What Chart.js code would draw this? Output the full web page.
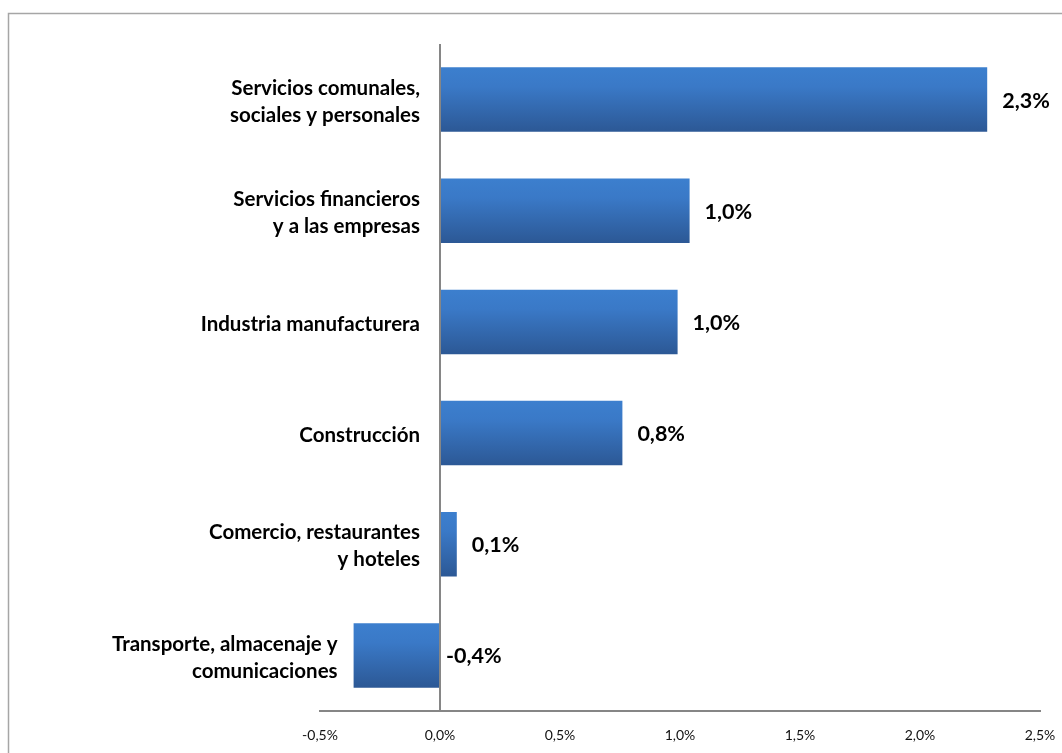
<!DOCTYPE html>
<html>
<head>
<meta charset="utf-8">
<script src="https://cdn.jsdelivr.net/npm/chart.js@4"></script>
<style>
  html, body { margin: 0; padding: 0; background: #fff; }
  #wrap { width: 1062px; height: 753px; position: relative; }
</style>
</head>
<body>
<div id="wrap"><canvas id="sector-chart"></canvas></div>
<script>
const sectors = [
  ['Servicios comunales,', 'sociales y personales'],
  ['Servicios financieros', 'y a las empresas'],
  ['Industria manufacturera'],
  ['Construcción'],
  ['Comercio, restaurantes', 'y hoteles'],
  ['Transporte, almacenaje y', 'comunicaciones']
];
const growth = [2.28, 1.04, 0.99, 0.76, 0.07, -0.36];
const growthLabels = ['2,3%', '1,0%', '1,0%', '0,8%', '0,1%', '-0,4%'];
const xTicks = [-0.5, 0, 0.5, 1, 1.5, 2, 2.5];

const fmtPct = v => v.toFixed(1).replace('.', ',') + '%';

function barGradient(ctx) {
  const chart = ctx.chart;
  const yScale = chart.scales.y;
  if (!yScale || ctx.dataIndex === undefined) return '#3a78c6';
  const c = yScale.getPixelForValue(ctx.dataIndex);
  const half = (yScale.height / sectors.length) * 0.58 / 2;
  if (!isFinite(c) || !isFinite(half) || half <= 0) return '#3a78c6';
  const g = chart.ctx.createLinearGradient(0, c - half, 0, c + half);
  g.addColorStop(0, '#3c7fce');
  g.addColorStop(0.3, '#3a79c7');
  g.addColorStop(1, '#2c5895');
  return g;
}

// frame, category labels and value labels
const decorations = {
  id: 'decorations',
  beforeDraw(chart) {
    const ctx = chart.ctx;
    ctx.save();
    ctx.strokeStyle = '#a6a6a6';
    ctx.lineWidth = 1.5;
    ctx.beginPath();
    ctx.moveTo(8.5, chart.height);
    ctx.lineTo(8.5, 13.5);
    ctx.lineTo(chart.width, 13.5);
    ctx.stroke();
    ctx.restore();
  },
  afterDatasetsDraw(chart) {
    const ctx = chart.ctx;
    const x = chart.scales.x;
    const y = chart.scales.y;
    const zero = x.getPixelForValue(0);
    ctx.save();
    ctx.fillStyle = '#000';
    ctx.textBaseline = 'middle';
    sectors.forEach((lines, i) => {
      const cy = y.getPixelForValue(i);
      const lo = Math.min(zero, x.getPixelForValue(growth[i]));
      const hi = Math.max(zero, x.getPixelForValue(growth[i]));
      ctx.font = 'bold 20.5px Lato';
      ctx.textAlign = 'right';
      const lh = 27;
      const top = cy + 2 - (lines.length - 1) * lh / 2;
      const gap = growth[i] < 0 ? 16 : 20;
      lines.forEach((t, k) => ctx.fillText(t, lo - gap, top + k * lh));
      ctx.font = 'bold 21.5px Lato';
      ctx.textAlign = 'left';
      const lx = growth[i] < 0 ? zero + 6 : hi + 15;
      ctx.fillText(growthLabels[i], lx, cy + 1);
    });
    ctx.restore();
  }
};

new Chart(document.getElementById('sector-chart'), {
  type: 'bar',
  data: {
    labels: sectors.map(s => s.join(' ')),
    datasets: [{
      data: growth,
      backgroundColor: barGradient,
      borderWidth: 0,
      barPercentage: 0.58,
      categoryPercentage: 1
    }]
  },
  options: {
    indexAxis: 'y',
    responsive: true,
    maintainAspectRatio: false,
    animation: false,
    layout: { padding: { left: 312, right: 22, top: 44, bottom: 10 } },
    plugins: { legend: { display: false }, tooltip: { enabled: false } },
    scales: {
      x: {
        min: -0.5,
        max: 2.5,
        afterBuildTicks: axis => { axis.ticks = xTicks.map(v => ({ value: v })); },
        afterFit: axis => {
          axis.height = 32;
          axis.paddingLeft = 0;
          axis.paddingRight = 0;
        },
        ticks: {
          callback: v => fmtPct(v),
          color: '#111',
          font: { family: 'Lato', size: 14 },
          padding: 16,
          maxRotation: 0
        },
        grid: {
          drawTicks: false,
          color: c => (c.tick && c.tick.value === 0 ? '#868686' : 'rgba(0,0,0,0)'),
          lineWidth: 2
        },
        border: { display: true, color: '#868686', width: 2 }
      },
      y: {
        ticks: { display: false },
        grid: { display: false },
        border: { display: false }
      }
    }
  },
  plugins: [decorations]
});
</script>
</body>
</html>
